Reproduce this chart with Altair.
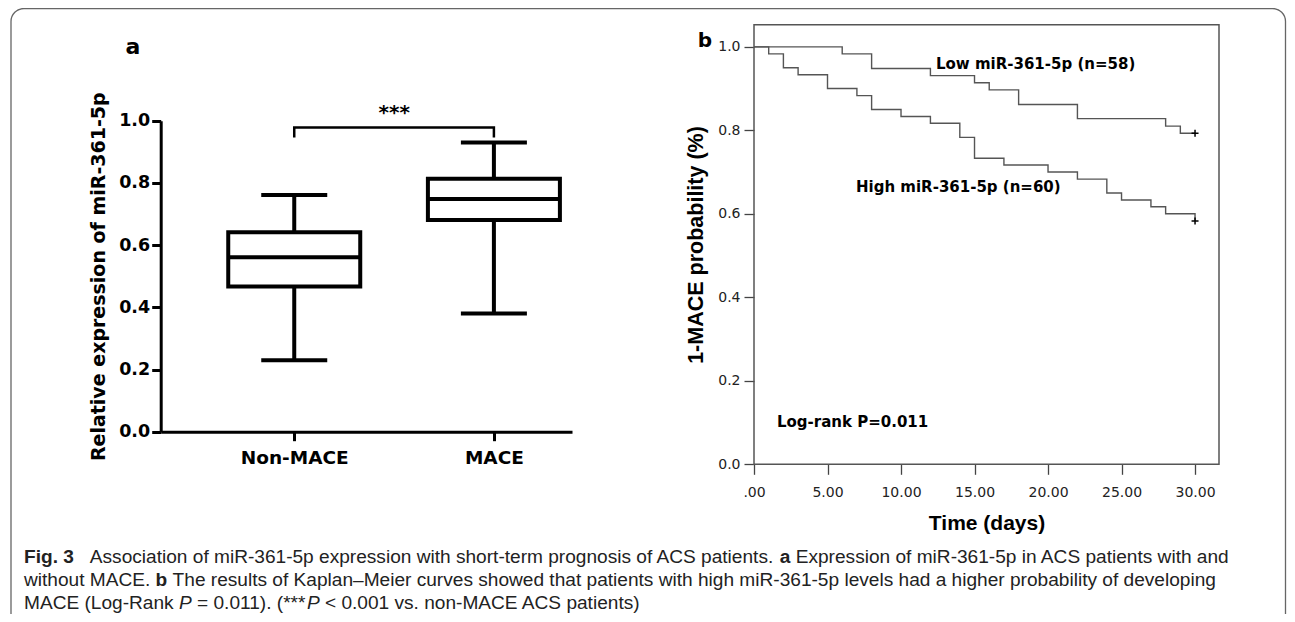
import altair as alt
import pandas as pd

# ---------------- data ----------------
# panel a: box plot summary
groups = ["Non-MACE", "MACE"]
whisker_low = [0.23, 0.38]
q1 = [0.467, 0.681]
median = [0.561, 0.748]
q3 = [0.641, 0.813]
whisker_high = [0.761, 0.930]
bracket_groups = ["Non-MACE", "Non-MACE", "MACE", "MACE"]
bracket_vals = [0.946, 0.978, 0.978, 0.946]

# panel b: Kaplan-Meier curves
low_time = [0, 6, 8, 12, 15, 16, 18, 22, 28, 29, 30]
low_surv = [1.0, 0.983, 0.948, 0.931, 0.914, 0.897, 0.862, 0.828, 0.810, 0.793, 0.793]
high_time = [0, 1, 2, 3, 5, 7, 8, 10, 12, 14, 15, 17, 20, 22, 24, 25, 27, 28, 30]
high_surv = [1.0, 0.983, 0.950, 0.933, 0.900, 0.883, 0.850, 0.833, 0.817, 0.783,
             0.733, 0.717, 0.700, 0.683, 0.650, 0.633, 0.617, 0.600, 0.583]
censor_time = [30, 30]
censor_surv = [0.793, 0.583]
x_ticks_b = [0, 5, 10, 15, 20, 25, 30]
y_ticks = [0, 0.2, 0.4, 0.6, 0.8, 1.0]

caption_lines = [
    [("Fig. 3", "bold"),
     ("   Association of miR-361-5p expression with short-term prognosis of ACS patients. ", "normal"),
     ("a", "bold"),
     (" Expression of miR-361-5p in ACS patients with and", "normal")],
    [("without MACE. ", "normal"),
     ("b", "bold"),
     (" The results of Kaplan\u2013Meier curves showed that patients with high miR-361-5p levels had a higher probability of developing", "normal")],
    [("MACE (Log-Rank ", "normal"),
     ("P", "italic"),
     (" = 0.011). (***", "normal"),
     ("P", "italic"),
     (" < 0.001 vs. non-MACE ACS patients)", "normal")],
]

# ---------------- layout ----------------
W, H = 1279, 606
A_X_RANGE = [152.7, 564.0]
A_Y_RANGE = [423.7, 112.7]
B_X_RANGE = [746.0, 1211.0]
B_Y_RANGE = [456.3, 16.7]
B_X_MAX = 31.63
B_Y_MAX = 1.053
DV = "DejaVu Sans"
LS = "Liberation Sans"

one = pd.DataFrame({"k": [0]})

# ---------------- panel a ----------------
box_df = pd.DataFrame({"group": groups, "lo": whisker_low, "q1": q1, "med": median,
                       "q3": q3, "hi": whisker_high})
bracket_df = pd.DataFrame({"group": bracket_groups, "v": bracket_vals,
                           "o": list(range(len(bracket_groups)))})
star_df = pd.DataFrame({"group": [groups[0]], "v": [1.004]})

xA_scale = alt.Scale(type="point", domain=groups, range=A_X_RANGE, padding=0.53, align=0.631)
yA_scale = alt.Scale(domain=[0, 1], range=A_Y_RANGE, nice=False, zero=False)
xA_axis = alt.Axis(orient="bottom", offset=-(H - A_Y_RANGE[0]), title=None, labelAngle=0,
                   labelFont=DV, labelFontWeight="bold", labelFontSize=18.5, labelColor="black",
                   labelPadding=8, tickSize=9, tickWidth=3, tickColor="black",
                   domainWidth=3, domainColor="black", grid=False)
yA_axis = alt.Axis(orient="left", offset=-A_X_RANGE[0], values=y_ticks, format=".1f",
                   title="Relative expression of miR-361-5p", titleFont=DV, titleFontSize=19,
                   titleFontWeight="bold", titleColor="black", titlePadding=14,
                   titleBaseline="alphabetic",
                   labelFont=DV, labelFontWeight="bold", labelFontSize=17.5, labelColor="black",
                   labelPadding=2, tickSize=9, tickWidth=3, tickColor="black",
                   domainWidth=3, domainColor="black", grid=False)


def xa():
    return alt.X("group:N", sort=groups, scale=xA_scale, axis=xA_axis)


def ya(field):
    return alt.Y(field + ":Q", scale=yA_scale, axis=yA_axis)


whisk = alt.Chart(box_df).mark_rule(color="black", strokeWidth=4).encode(
    x=xa(), y=ya("lo"), y2="hi")
box = alt.Chart(box_df).mark_bar(size=132, fill="white", stroke="black", strokeWidth=4,
                                 opacity=1).encode(x=xa(), y=ya("q1"), y2="q3")
med = alt.Chart(box_df).mark_tick(color="black", thickness=4, size=132, opacity=1).encode(
    x=xa(), y=ya("med"))
cap_lo = alt.Chart(box_df).mark_tick(color="black", thickness=4, size=66, opacity=1).encode(
    x=xa(), y=ya("lo"))
cap_hi = alt.Chart(box_df).mark_tick(color="black", thickness=4, size=66, opacity=1).encode(
    x=xa(), y=ya("hi"))
bracket = alt.Chart(bracket_df).mark_line(color="black", strokeWidth=2.5, strokeJoin="miter").encode(
    x=xa(), y=ya("v"), order="o:Q")
stars = alt.Chart(star_df).mark_text(text="***", font=DV, fontWeight="bold", fontSize=20,
                                     dx=100, baseline="alphabetic", align="center").encode(
    x=xa(), y=ya("v"))
panel_a = alt.layer(whisk, box, med, cap_lo, cap_hi, bracket, stars)

# ---------------- panel b ----------------
km_df = pd.concat([
    pd.DataFrame({"t": low_time, "s": low_surv, "grp": "low"}),
    pd.DataFrame({"t": high_time, "s": high_surv, "grp": "high"}),
])
cens_df = pd.DataFrame({"t": censor_time, "s": censor_surv})
box_b_df = pd.DataFrame({"t": [0], "t2": [B_X_MAX], "s": [0], "s2": [B_Y_MAX]})

xB_scale = alt.Scale(domain=[0, B_X_MAX], range=B_X_RANGE, nice=False, zero=False)
yB_scale = alt.Scale(domain=[0, B_Y_MAX], range=B_Y_RANGE, nice=False, zero=False)
xB_axis = alt.Axis(orient="bottom", offset=-(H - B_Y_RANGE[0]), values=x_ticks_b,
                   labelExpr="datum.value == 0 ? '.00' : format(datum.value, '.2f')",
                   labelFlush=False, labelOverlap=False,
                   title="Time (days)", titleFont=LS, titleFontSize=21, titleFontWeight="bold",
                   titleColor="black", titleBaseline="alphabetic", titlePadding=30,
                   labelFont=DV, labelFontSize=14, labelColor="#222", labelPadding=11,
                   tickSize=10, tickWidth=1.3, tickColor="#444", domain=False, grid=False)
yB_axis = alt.Axis(orient="left", offset=-B_X_RANGE[0], values=y_ticks, format=".1f",
                   labelFlush=False, labelOverlap=False,
                   title="1-MACE probability (%)", titleFont=LS, titleFontSize=21.5,
                   titleFontWeight="bold", titleColor="black", titlePadding=15,
                   titleBaseline="alphabetic",
                   labelFont=DV, labelFontSize=14, labelColor="#222", labelPadding=4,
                   tickSize=10, tickWidth=1.3, tickColor="#444", domain=False, grid=False)


def xb(field="t"):
    return alt.X(field + ":Q", scale=xB_scale, axis=xB_axis)


def yb(field="s"):
    return alt.Y(field + ":Q", scale=yB_scale, axis=yB_axis)


frame_b = alt.Chart(box_b_df).mark_rect(fillOpacity=0, stroke="#555", strokeWidth=1.5).encode(
    x=xb(), x2="t2", y=yb(), y2="s2")
curves = alt.Chart(km_df).mark_line(interpolate="step-after", color="#555555", strokeWidth=1.4).encode(
    x=xb(), y=yb(), detail="grp:N")
cens = alt.Chart(cens_df).mark_point(shape="M-1,0L1,0M0,-1L0,1", size=49, filled=False,
                                     stroke="black", strokeWidth=1.5, opacity=1).encode(
    x=xb(), y=yb())
panel_b = alt.layer(frame_b, curves, cens)

# ---------------- annotations ----------------
def label(text, x, y, font=DV, size=15, weight="bold", align="left"):
    return alt.Chart(one).mark_text(text=text, font=font, fontSize=size, fontWeight=weight,
                                    align=align, baseline="alphabetic", color="black").encode(
        x=alt.value(x), y=alt.value(y))


ann = [
    label("a", 125, 46, size=22, align="center"),
    label("b", 697, 39, size=20, align="center"),
    label("Low miR-361-5p (n=58)", 928, 60.5),
    label("High miR-361-5p (n=60)", 848, 183.5),
    label("Log-rank P=0.011", 769, 419),
]

frame = alt.Chart(one).mark_rect(cornerRadius=13, fillOpacity=0, stroke="#666", strokeWidth=1.3).encode(
    x=alt.value(3), x2=alt.value(1277.5), y=alt.value(0.5), y2=alt.value(640))

# ---------------- caption ----------------
_W = {}
for ch, w in zip("abcdefghijklmnopqrstuvwxyz",
                 [556, 556, 500, 556, 556, 278, 556, 556, 222, 222, 500, 222, 833, 556, 556,
                  556, 556, 333, 500, 278, 556, 500, 722, 500, 500, 500]):
    _W[ch] = w
for ch, w in zip("ABCDEFGHIJKLMNOPQRSTUVWXYZ",
                 [667, 667, 722, 722, 667, 611, 778, 722, 278, 500, 667, 556, 833, 722, 778,
                  667, 778, 722, 667, 611, 722, 667, 944, 667, 667, 611]):
    _W[ch] = w
for ch in "0123456789":
    _W[ch] = 556
_W.update({" ": 278, ".": 278, ",": 278, "(": 333, ")": 333, "-": 333, "*": 389,
           "<": 584, "=": 584, "\u2013": 556, ":": 278})
_WB = dict(_W)
_WB.update({"F": 611, "i": 278, "g": 611, "b": 611, "a": 556})


def em(s, style):
    tbl = _WB if style == "bold" else _W
    return sum(tbl.get(c, 556) for c in s) / 1000.0


CAP_SIZE = 19.1
cap_left = 16
cap_base = [554.5, 577.5, 600.5]
rows = []
for line, base in zip(caption_lines, cap_base):
    x = cap_left
    for txt, style in line:
        lead = len(txt) - len(txt.lstrip(" "))
        rows.append({"text": txt.strip(" "), "x": x + em(" " * lead, style) * CAP_SIZE,
                     "y": base, "style": style})
        x += em(txt, style) * CAP_SIZE
cap_df = pd.DataFrame(rows)

cap_layers = []
for style, weight, fstyle in [("normal", "normal", "normal"), ("bold", "bold", "normal"),
                              ("italic", "normal", "italic")]:
    cap_layers.append(
        alt.Chart(cap_df).transform_filter(alt.datum.style == style).mark_text(
            font=LS, fontSize=CAP_SIZE, fontWeight=weight, fontStyle=fstyle, align="left",
            baseline="alphabetic", color="#222").encode(
            x=alt.X("x:Q", scale=None, axis=None), y=alt.Y("y:Q", scale=None, axis=None),
            text="text:N"))

chart = alt.layer(frame, panel_a, panel_b, *ann, *cap_layers).resolve_scale(
    x="independent", y="independent"
).properties(
    width=W, height=H, padding=0, autosize=alt.AutoSizeParams(type="none"),
    background="white"
).configure_view(stroke=None)

chart.save("out.html", embed_options={"renderer": "svg", "actions": False})
